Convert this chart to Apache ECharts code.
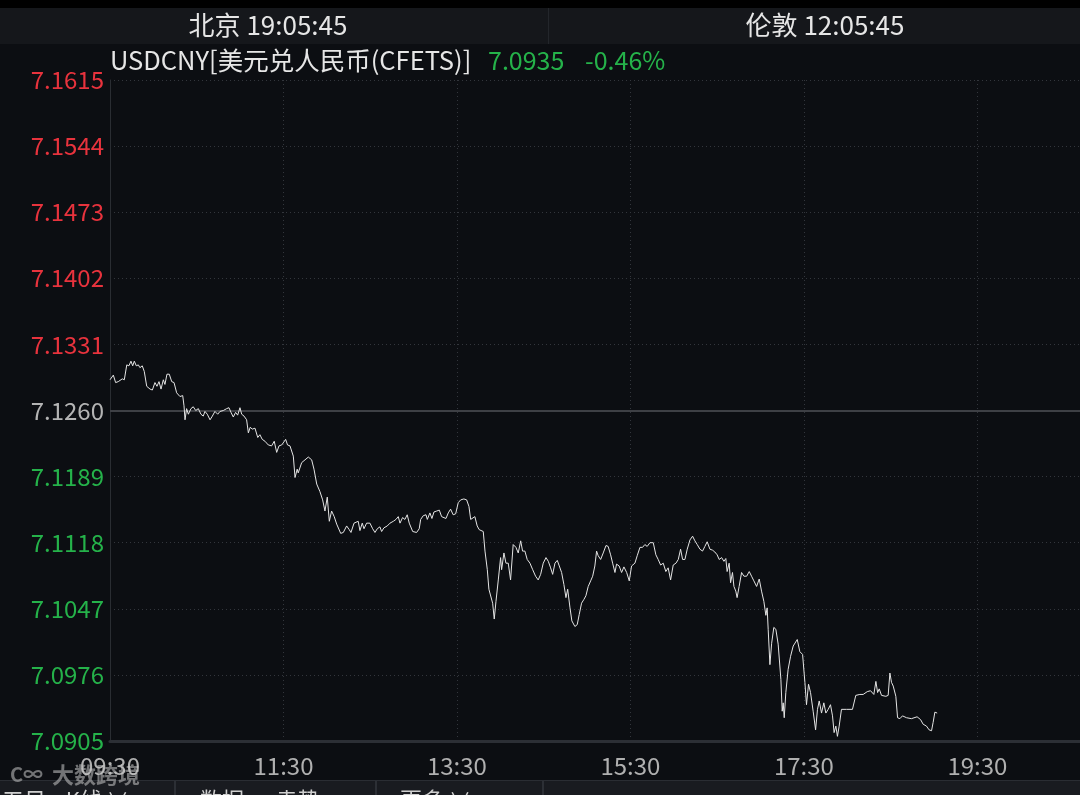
<!DOCTYPE html>
<html><head><meta charset="utf-8">
<script src="https://cdn.jsdelivr.net/npm/echarts@6/dist/echarts.min.js"></script>
<style>html,body{margin:0;padding:0;background:#0c0e12;}#c{width:1080px;height:795px;}</style>
</head><body><div id="c"></div>
<script>
// ---- data ----
const symbolTitle = 'USDCNY[美元兑人民币(CFETS)]';
const beijingTime = '北京 19:05:45';
const londonTime = '伦敦 12:05:45';
const lastPrice = '7.0935';
const changePct = '-0.46%';
const sessionStart = '09:30';
const prevClose = 7.1260;
const yTicks = [7.0905, 7.0976, 7.1047, 7.1118, 7.1189, 7.1260, 7.1331, 7.1402, 7.1473, 7.1544, 7.1615];
const xTickLabels = ['09:30', '11:30', '13:30', '15:30', '17:30', '19:30'];
// minutes elapsed since 09:30
const minutes = [
0.0,2.3,3.9,5.7,6.9,8.5,9.9,11.6,13.1,14.5,
15.7,16.8,18.2,19.6,20.7,22.3,23.7,25.4,27.7,29.3,
31.1,32.5,33.9,35.3,36.9,38.0,39.4,41.0,42.7,44.3,
46.1,48.4,50.3,51.2,51.9,53.0,54.2,56.0,57.6,59.3,
61.1,62.9,64.5,65.7,67.3,69.2,70.8,72.6,74.5,76.1,
78.4,80.7,82.3,83.7,85.3,86.9,88.3,89.9,91.1,92.7,
94.5,95.7,97.0,98.4,100.3,102.2,103.7,105.3,107.2,109.5,
111.8,113.6,115.3,116.9,118.8,120.1,121.5,122.8,124.5,
126.8,128.0,129.5,130.2,132.6,134.9,137.2,139.5,141.1,143.0,
145.2,147.1,148.7,150.3,151.7,153.3,155.1,156.8,159.6,161.4,
163.7,165.5,166.7,168.8,170.1,171.7,172.9,174.5,175.7,177.5,
179.8,181.7,183.3,184.9,186.7,187.9,189.5,191.8,193.7,196.0,
197.8,199.4,200.6,202.4,204.0,205.6,207.0,209.4,212.1,213.9,
214.9,216.7,218.6,219.5,221.3,222.7,224.1,226.0,227.8,229.4,
230.5,232.4,234.0,235.6,237.4,239.1,240.9,242.6,244.8,246.7,
248.3,249.5,250.8,252.4,254.0,255.4,
258.2,259.4,261.0,262.1,263.3,264.7,265.8,267.0,268.6,270.2,
270.9,272.5,273.9,275.5,277.1,278.9,280.8,282.4,284.1,285.4,
287.0,288.6,290.5,292.4,294.4,296.2,297.9,299.7,301.6,303.2,
304.8,306.2,307.8,309.4,310.8,312.4,314.0,315.4,316.6,318.2,
319.5,321.6,323.2,324.6,326.2,327.8,329.2,330.8,332.5,333.9,
335.4,336.6,337.7,339.4,341.2,343.1,344.6,346.3,347.7,349.3,
350.4,352.2,353.9,355.5,357.4,359.2,360.8,363.1,364.7,366.6,
368.4,370.0,371.6,373.5,
375.8,377.6,379.2,380.9,382.7,384.5,386.1,387.8,389.6,391.5,
393.1,394.7,396.1,397.7,399.3,401.2,403.0,404.6,406.2,408.1,
409.9,411.5,413.1,415.0,416.8,418.4,420.0,421.4,423.1,424.7,
426.0,426.9,428.3,429.3,430.6,431.6,432.9,433.8,435.2,436.9,
438.5,440.4,442.2,443.8,445.4,447.3,449.1,450.7,452.3,453.7,
454.6,455.3,456.5,457.7,459.2,460.6,462.2,463.4,464.1,465.0,
465.7,466.4,467.5,469.1,470.8,472.6,473.8,475.4,477.2,479.1,
480.7,481.8,483.2,484.6,486.4,488.1,489.4,490.6,492.2,493.8,
495.2,496.8,498.4,499.8,500.9,502.1,503.2,504.4,506.0,509.5,
513.6,515.9,518.7,521.0,523.8,526.1,528.4,529.8,531.0,532.1,
533.7,536.7,538.3,539.5,540.6,541.8,543.6,544.8,546.4,548.2,
551.0,554.4,558.3,560.7,562.5,564.8,566.6,568.3,569.4,570.6,
572.2
];
const prices = [
7.1293,7.1298,7.1290,7.1291,7.1289,7.1294,7.1293,7.1309,7.1308,7.1313,
7.1308,7.1313,7.1308,7.1309,7.1306,7.1308,7.1302,7.1286,7.1283,7.1282,
7.1290,7.1286,7.1291,7.1283,7.1293,7.1288,7.1299,7.1299,7.1291,7.1290,
7.1279,7.1275,7.1276,7.1265,7.1250,7.1262,7.1256,7.1262,7.1264,7.1260,
7.1262,7.1256,7.1254,7.1259,7.1256,7.1250,7.1254,7.1259,7.1256,7.1259,
7.1260,7.1262,7.1263,7.1258,7.1253,7.1258,7.1255,7.1263,7.1256,7.1254,
7.1250,7.1236,7.1242,7.1240,7.1241,7.1231,7.1234,7.1229,7.1227,7.1223,
7.1222,7.1227,7.1215,7.1222,7.1223,7.1225,7.1229,7.1223,7.1222,
7.1211,7.1188,7.1197,7.1193,7.1204,7.1207,7.1210,7.1207,7.1197,7.1181,
7.1173,7.1164,7.1152,7.1167,7.1141,7.1152,7.1146,7.1138,7.1128,7.1129,
7.1136,7.1132,7.1129,7.1139,7.1141,7.1141,7.1131,7.1139,7.1133,7.1139,
7.1139,7.1133,7.1129,7.1133,7.1135,7.1130,7.1134,7.1136,7.1139,7.1141,
7.1143,7.1146,7.1139,7.1145,7.1143,7.1148,7.1139,7.1130,7.1129,7.1133,
7.1143,7.1147,7.1148,7.1143,7.1150,7.1144,7.1151,7.1152,7.1153,7.1146,
7.1144,7.1144,7.1150,7.1154,7.1148,7.1149,7.1161,7.1164,7.1165,7.1164,
7.1157,7.1143,7.1141,7.1146,7.1136,7.1132,
7.1130,7.1109,7.1089,7.1068,7.1070,7.1053,7.1036,7.1055,7.1078,7.1102,
7.1089,7.1107,7.1096,7.1096,7.1078,7.1116,7.1113,7.1107,7.1120,7.1109,
7.1109,7.1100,7.1096,7.1089,7.1082,7.1078,7.1084,7.1096,7.1102,7.1098,
7.1091,7.1084,7.1096,7.1099,7.1093,7.1086,7.1073,7.1059,7.1068,7.1048,
7.1034,7.1028,7.1030,7.1041,7.1053,7.1057,7.1061,7.1071,7.1077,7.1082,
7.1093,7.1109,7.1104,7.1100,7.1107,7.1115,7.1114,7.1105,7.1096,7.1086,
7.1095,7.1093,7.1086,7.1092,7.1086,7.1077,7.1093,7.1096,7.1104,7.1113,
7.1113,7.1116,7.1114,7.1118,
7.1118,7.1105,7.1100,7.1094,7.1096,7.1087,7.1091,7.1078,7.1094,7.1096,
7.1100,7.1111,7.1100,7.1100,7.1111,7.1121,7.1125,7.1120,7.1116,7.1111,
7.1109,7.1114,7.1119,7.1111,7.1110,7.1108,7.1105,7.1100,7.1102,7.1098,
7.1101,7.1087,7.1096,7.1075,7.1086,7.1071,7.1066,7.1059,7.1071,7.1086,
7.1082,7.1082,7.1087,7.1082,7.1077,7.1071,7.1079,7.1066,7.1055,7.1040,
7.1048,7.1025,7.0987,7.1010,7.1027,7.1025,7.1009,7.1007,7.0971,7.0937,
7.0946,7.0930,7.0957,7.0982,7.0996,7.1007,7.1005,7.1014,7.1001,7.0998,
7.0968,7.0944,7.0966,7.0957,7.0937,7.0917,7.0939,7.0948,7.0935,7.0946,
7.0935,7.0939,7.0944,7.0932,7.0914,7.0921,7.0910,7.0921,7.0939,7.0939,
7.0939,7.0954,7.0955,7.0955,7.0958,7.0959,7.0955,7.0969,7.0957,7.0961,
7.0954,7.0953,7.0954,7.0978,7.0968,7.0964,7.0953,7.0930,7.0929,7.0932,
7.0930,7.0929,7.0931,7.0928,7.0923,7.0921,7.0917,7.0916,7.0925,7.0936,
7.0935
];

// ---- build ----
const base = yTicks[0];
const PIP = 10000;
const toPip = p => Math.round((p - base) * PIP * 100) / 100;
const yMaxPip = toPip(yTicks[yTicks.length - 1]);
const yStepPip = toPip(yTicks[1]);
const prevPip = toPip(prevClose);
const [sh, sm] = sessionStart.split(':').map(Number);
const startMin = sh * 60 + sm;
const fmtMin = v => {
  const t = startMin + v;
  return String(Math.floor(t / 60) % 24).padStart(2, '0') + ':' + String(Math.round(t % 60)).padStart(2, '0');
};
const seriesData = minutes.map((m, i) => [m, toPip(prices[i])]);

const RED = '#e8333d', GREEN = '#25b24a', NEU = '#b4b4b4';
const FONT = '"Noto Sans CJK SC", "Noto Sans", sans-serif';
const chart = echarts.init(document.getElementById('c'), null, {renderer: 'canvas'});
chart.setOption({
  backgroundColor: '#0c0e12',
  animation: false,
  textStyle: {fontFamily: FONT},
  grid: {left: 110, right: 0, top: 80, bottom: 54, containLabel: false},
  xAxis: {
    type: 'value', min: 0, max: 671, interval: 120,
    axisLine: {show: true, lineStyle: {color: '#2c2f35', width: 3}},
    axisTick: {show: false},
    axisLabel: {
      show: true, color: '#b0b0b0', fontSize: 24, margin: 13, fontFamily: FONT,
      showMaxLabel: false,
      formatter: v => {
        const s = fmtMin(v);
        return (v % 120 === 0 && xTickLabels.includes(s)) ? s : '';
      }
    },
    splitLine: {show: true, lineStyle: {color: '#33363c', width: 1, type: [1, 3]}}
  },
  yAxis: {
    type: 'value', min: 0, max: yMaxPip, interval: yStepPip,
    axisLine: {show: true, lineStyle: {color: '#2a2d32', width: 1}},
    axisTick: {show: false},
    axisLabel: {
      show: true, fontSize: 24, margin: 6, fontFamily: FONT,
      formatter: v => (base + v / PIP).toFixed(4),
      color: v => (Math.abs(v - prevPip) < 0.5 ? NEU : (v > prevPip ? RED : GREEN))
    },
    splitLine: {show: true, lineStyle: {color: '#33363c', width: 1, type: [1, 3]}}
  },
  series: [{
    type: 'line',
    data: seriesData,
    showSymbol: false,
    symbol: 'none',
    lineStyle: {color: '#e4e4e4', width: 1},
    z: 5,
    markLine: {
      silent: true, symbol: 'none', label: {show: false},
      lineStyle: {color: '#3e4045', width: 2, type: 'solid'},
      data: [{yAxis: prevPip}]
    }
  }],
  graphic: [
    {type: 'rect', z: 50, shape: {x: 0, y: 0, width: 1080, height: 8}, style: {fill: '#000000'}},
    {type: 'rect', z: 50, shape: {x: 0, y: 8, width: 1080, height: 36}, style: {fill: '#15171b'}},
    {type: 'rect', z: 51, shape: {x: 548, y: 8, width: 1, height: 36}, style: {fill: '#23262b'}},
    {type: 'text', z: 52, x: 268, y: 25, style: {text: beijingTime, fill: '#e6e6e6', font: '26px ' + FONT, align: 'center', verticalAlign: 'middle'}},
    {type: 'text', z: 52, x: 825, y: 25, style: {text: londonTime, fill: '#e6e6e6', font: '26px ' + FONT, align: 'center', verticalAlign: 'middle'}},
    {type: 'text', z: 52, x: 110, y: 60, style: {text: symbolTitle, fill: '#e6e6e6', font: '25.5px ' + FONT, align: 'left', verticalAlign: 'middle'}},
    {type: 'text', z: 52, x: 488, y: 60, style: {text: lastPrice, fill: GREEN, font: '25px ' + FONT, align: 'left', verticalAlign: 'middle'}},
    {type: 'text', z: 52, x: 585, y: 60, style: {text: changePct, fill: GREEN, font: '25px ' + FONT, align: 'left', verticalAlign: 'middle'}},
    // bottom tab bar
    {type: 'rect', z: 50, shape: {x: 0, y: 781, width: 1080, height: 14}, style: {fill: '#191b20'}},
    {type: 'rect', z: 51, shape: {x: 0, y: 780, width: 1080, height: 1}, style: {fill: '#2a2d33'}},
    {type: 'rect', z: 51, shape: {x: 174, y: 781, width: 2, height: 14}, style: {fill: '#2c2f35'}},
    {type: 'rect', z: 51, shape: {x: 375, y: 781, width: 2, height: 14}, style: {fill: '#2c2f35'}},
    {type: 'rect', z: 51, shape: {x: 542, y: 781, width: 2, height: 14}, style: {fill: '#2c2f35'}},
    {type: 'text', z: 52, x: 2, y: 789, style: {text: '五日    K线 ∨', fill: '#d0d0d0', font: '22px ' + FONT, align: 'left', verticalAlign: 'top'}},
    {type: 'text', z: 52, x: 200, y: 789, style: {text: '数据 · 走势', fill: '#d0d0d0', font: '22px ' + FONT, align: 'left', verticalAlign: 'top'}},
    {type: 'text', z: 52, x: 400, y: 789, style: {text: '更多 ∨', fill: '#d0d0d0', font: '22px ' + FONT, align: 'left', verticalAlign: 'top'}},
    // watermark
    {type: 'text', z: 60, x: 10, y: 774, style: {text: 'C∞', fill: 'rgba(200,200,200,0.55)', font: 'bold 20px ' + FONT, align: 'left', verticalAlign: 'middle'}},
    {type: 'text', z: 60, x: 52, y: 775, style: {text: '大数跨境', fill: 'rgba(200,200,200,0.55)', font: 'bold 22px ' + FONT, align: 'left', verticalAlign: 'middle'}}
  ]
});
</script>
</body></html>
